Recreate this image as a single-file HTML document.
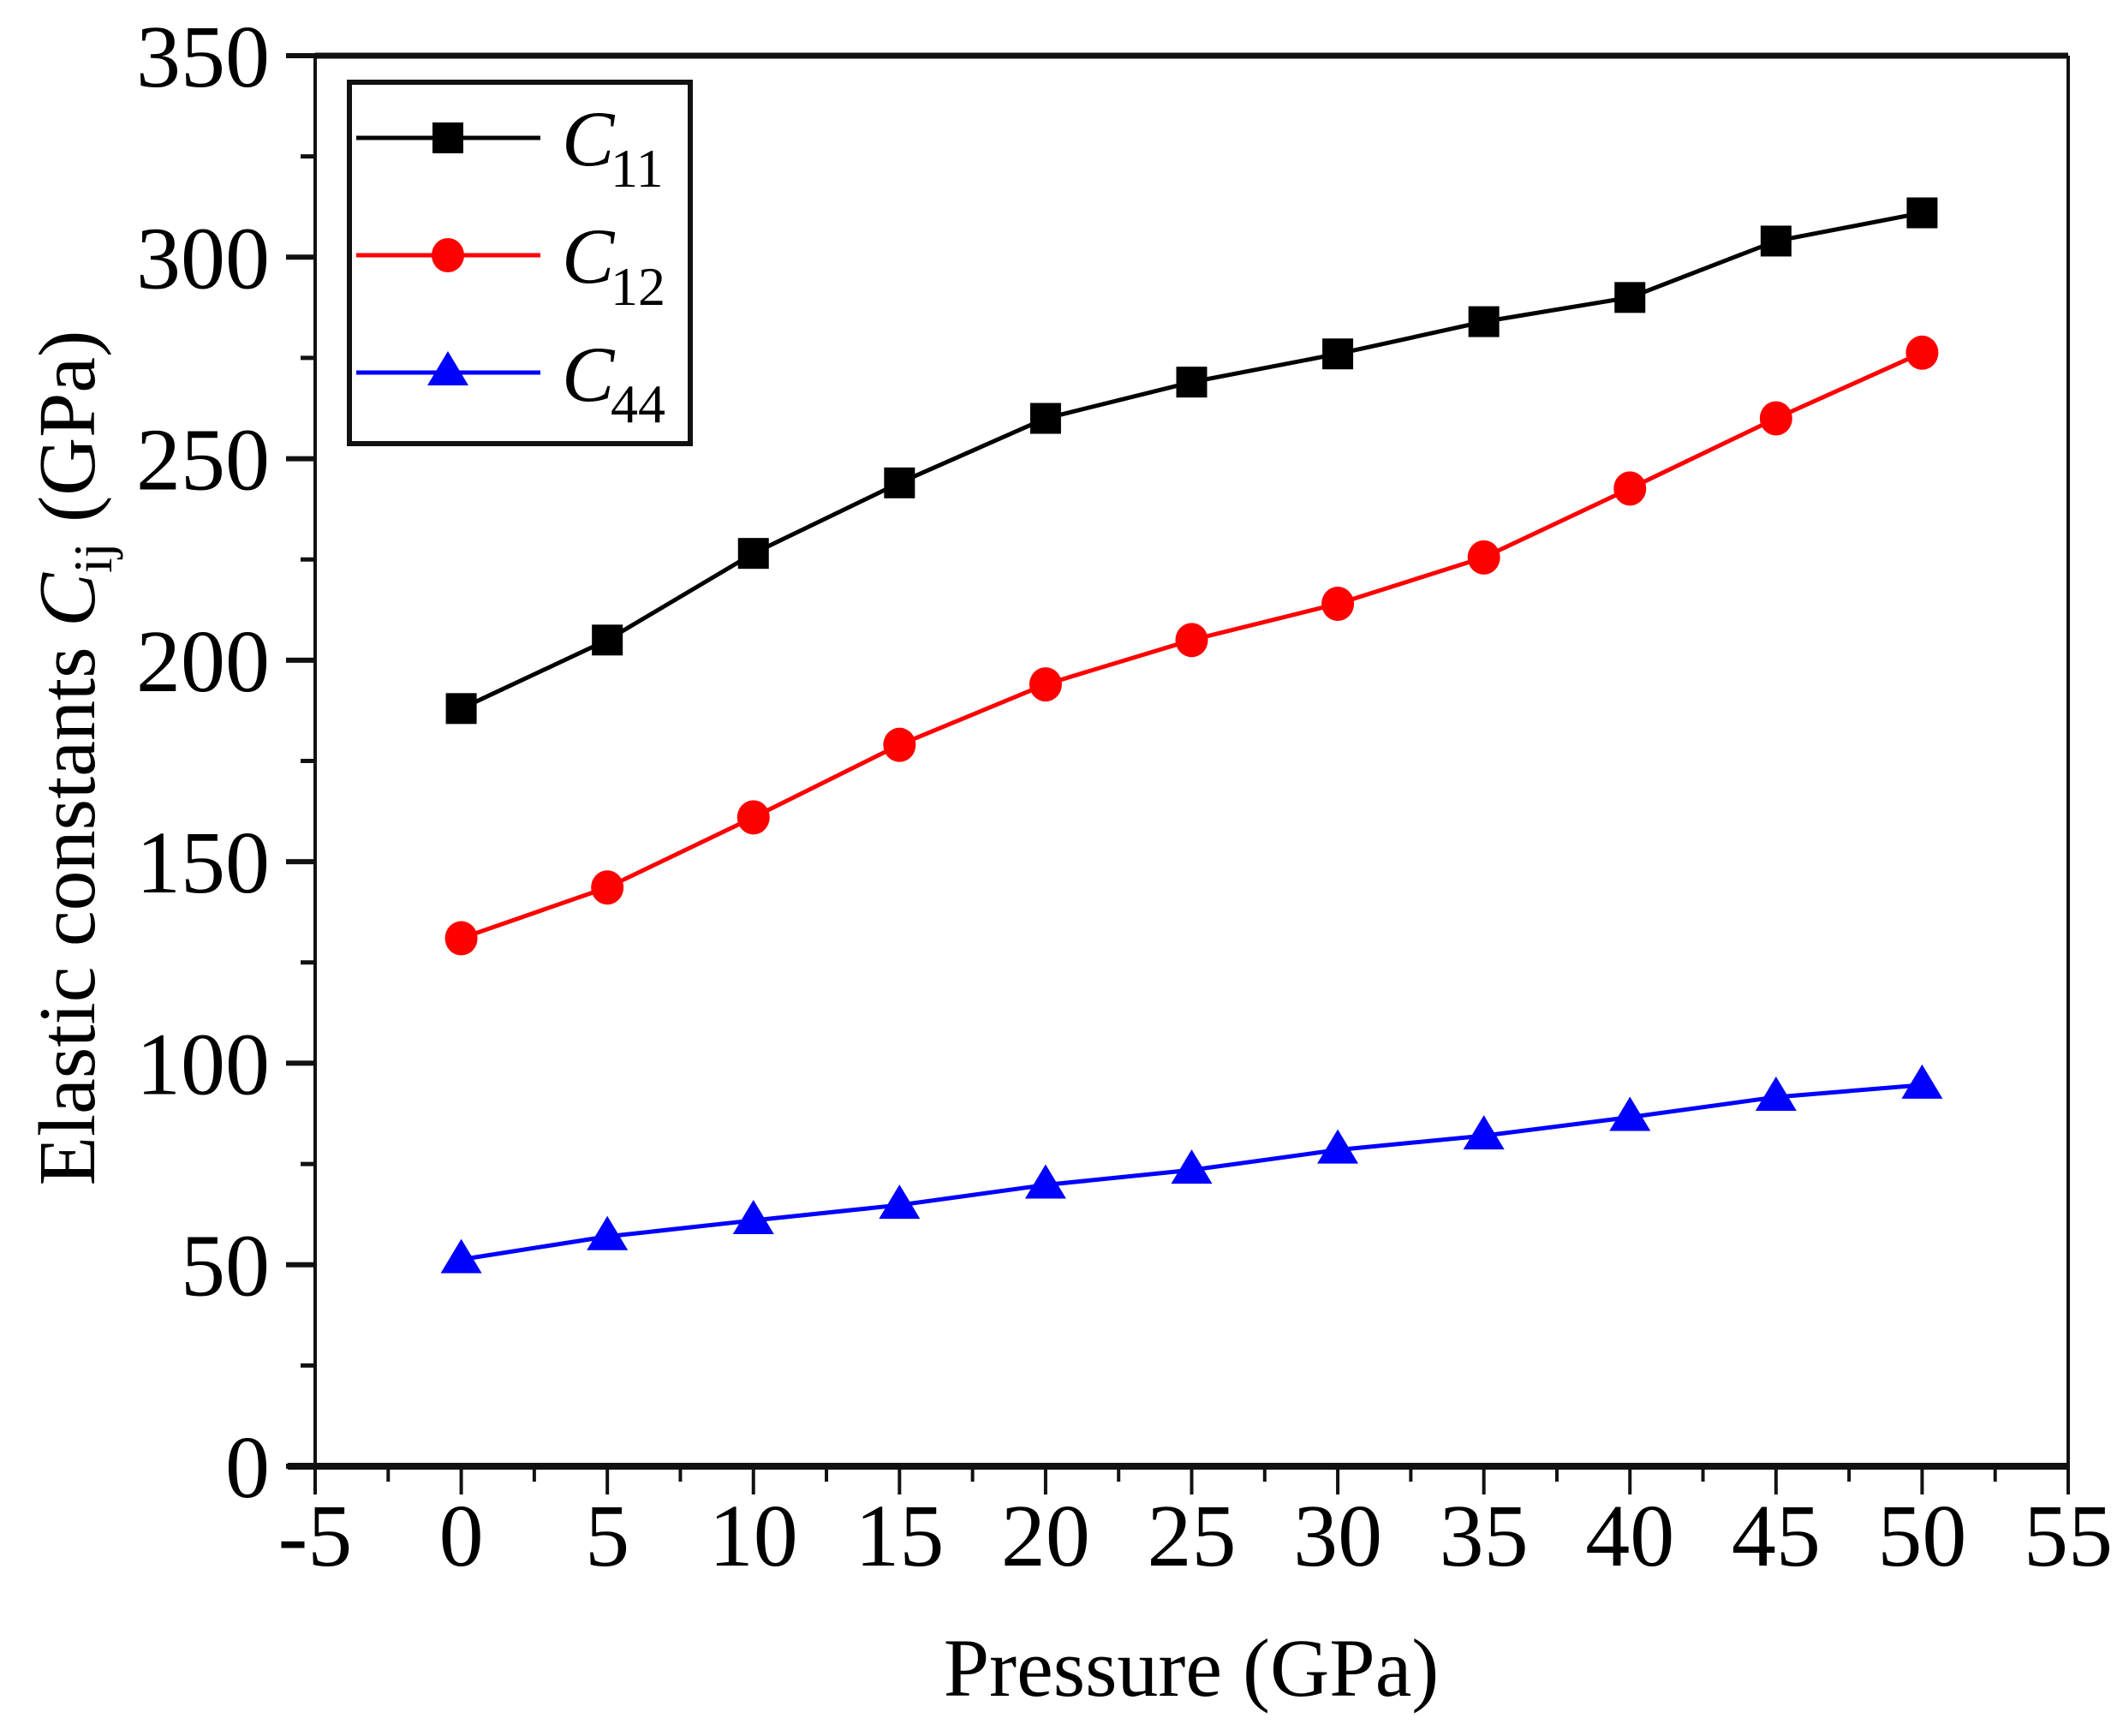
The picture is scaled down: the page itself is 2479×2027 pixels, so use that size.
<!DOCTYPE html>
<html><head><meta charset="utf-8"><style>
html,body{margin:0;padding:0;background:#fff;}
svg{display:block;font-family:"Liberation Serif",serif;}
</style></head><body>
<svg id="chart" width="2479" height="2027" viewBox="0 0 2479 2027" xmlns="http://www.w3.org/2000/svg">
<g id="axes"></g>
<g id="series"></g>
<g id="legend">
  <rect x="408" y="96" width="398" height="422" fill="#fff" stroke="#111" stroke-width="6"/>
  <g>
    <line x1="416" y1="161" x2="631" y2="161" stroke="#000" stroke-width="5"/>
    <rect x="505" y="143" width="36" height="36" fill="#000"/>
    <text x="656" y="193" font-size="92" font-style="italic">C</text>
    <text x="713" y="218" font-size="64">11</text>
  </g>
  <g>
    <line x1="416" y1="298" x2="631" y2="298" stroke="#f00" stroke-width="5"/>
    <ellipse cx="523" cy="298" rx="19" ry="20" fill="#f00"/>
    <text x="656" y="330" font-size="92" font-style="italic">C</text>
    <text x="713" y="356" font-size="64">12</text>
  </g>
  <g>
    <line x1="416" y1="435" x2="631" y2="435" stroke="#00f" stroke-width="5"/>
    <polygon points="523,410 499,450 547,450" fill="#00f"/>
    <text x="656" y="468" font-size="92" font-style="italic">C</text>
    <text x="713" y="493" font-size="64">44</text>
  </g>
</g>
<text x="1391" y="1980" font-size="96" text-anchor="middle">Pressure (GPa)</text>
<text transform="translate(110,885) rotate(-90)" font-size="94" text-anchor="middle">Elastic constants <tspan font-style="italic">C</tspan><tspan font-size="64" dy="20">ij</tspan><tspan dy="-20"> (GPa)</tspan></text>
</svg>
<script>
const pressures = [0,5,10,15,20,25,30,35,40,45,50];
const c11 = [188,205,226.5,244,260,269,276,284,290,304,311];
const c12 = [131,143.6,161,179,194,205,214,225.5,242.6,260,276.3];
const c44 = [51.3,57,61,64.8,69.8,73.5,78.5,82,86.6,91.6,94.6];
const xTicks = [-5,0,5,10,15,20,25,30,35,40,45,50,55];
const yTicks = [0,50,100,150,200,250,300,350];

const L=368,R=2415,T=65,B=1712;
const xMin=-5,xMax=55,yMin=0,yMax=350;
function sx(v){return L+(v-xMin)/(xMax-xMin)*(R-L);}
function sy(v){return B-(v-yMin)/(yMax-yMin)*(B-T);}
const NS="http://www.w3.org/2000/svg";
function mk(tag,attrs,parent){const e=document.createElementNS(NS,tag);for(const k in attrs)e.setAttribute(k,attrs[k]);parent.appendChild(e);return e;}
const axes=document.getElementById('axes');
let e;
e=mk('line',{x1:L,y1:T,x2:R,y2:T,stroke:'#111','stroke-width':7},axes);


e=mk('line',{x1:R,y1:T,x2:R,y2:B,stroke:'#111','stroke-width':4},axes);


e=mk('line',{x1:L,y1:T-3,x2:L,y2:B,stroke:'#111','stroke-width':4},axes);


e=mk('line',{x1:L-32,y1:B,x2:R,y2:B,stroke:'#111','stroke-width':8},axes);


xTicks.forEach((t,i)=>{
  const x=sx(t);
  e=mk('line',{x1:x,y1:B,x2:x,y2:B+33,stroke:'#111','stroke-width':4},axes);
  
  
  if(i<xTicks.length-1){
    const xm=sx(t+2.5);
    e=mk('line',{x1:xm,y1:B,x2:xm,y2:B+18,stroke:'#111','stroke-width':4},axes);
    
    
  }
  e=mk('text',{x:x,y:1828,'font-size':104,'text-anchor':'middle'},axes);
  e.textContent=String(t);
  
  
});
yTicks.forEach((t,i)=>{
  const y=sy(t);
  e=mk('line',{x1:L-34,y1:y,x2:L,y2:y,stroke:'#111','stroke-width':6},axes);
  
  
  if(i<yTicks.length-1){
    const ym=sy(t+25);
    e=mk('line',{x1:L-17,y1:ym,x2:L,y2:ym,stroke:'#111','stroke-width':5},axes);
    
    
  }
  e=mk('text',{x:315,y:y+36,'font-size':104,'text-anchor':'end'},axes);
  e.textContent=String(t);
  
  
});
const ser=document.getElementById('series');
function drawSeries(vals,color,shape,name){
  const g=mk('g',{},ser);
  
  
  const pts=pressures.map((p,i)=>sx(p)+','+sy(vals[i])).join(' ');
  e=mk('polyline',{points:pts,fill:'none',stroke:color,'stroke-width':5,'stroke-linejoin':'round'},g);
  
  
  pressures.forEach((p,i)=>{
    const x=sx(p),y=sy(vals[i]);
    let m;
    if(shape==='square') m=mk('rect',{x:x-18,y:y-18,width:36,height:36,fill:color},g);
    else if(shape==='circle') m=mk('ellipse',{cx:x,cy:y,rx:19,ry:20,fill:color},g);
    else m=mk('polygon',{points:(x)+','+(y-24)+' '+(x-24)+','+(y+16)+' '+(x+24)+','+(y+16),fill:color},g);
    
    
  });
}
drawSeries(c44,'#00f','triangle','series-c44');
drawSeries(c12,'#f00','circle','series-c12');
drawSeries(c11,'#000','square','series-c11');
</script>
</body></html>
